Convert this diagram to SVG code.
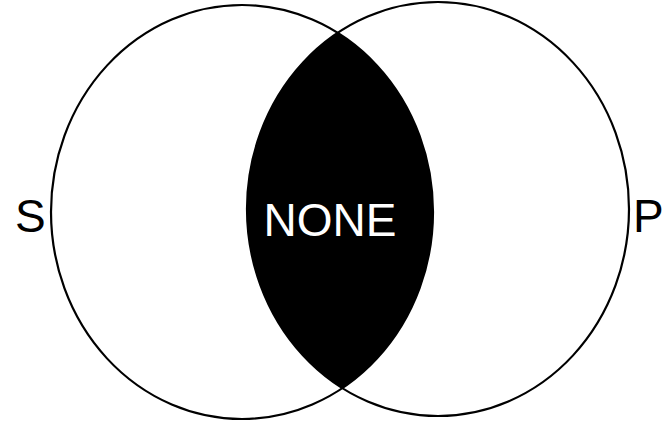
<svg xmlns="http://www.w3.org/2000/svg" width="665" height="425" viewBox="0 0 665 425">
<style>
.c{fill:none;stroke:#000;stroke-width:2.2}
.t{font-family:"Liberation Sans",Arial,sans-serif;font-size:46px}
</style>
<defs>
<clipPath id="clipP"><ellipse cx="438" cy="209" rx="191" ry="207"/></clipPath>
</defs>
<rect width="665" height="425" fill="#fff"/>
<g id="lens">
<ellipse cx="242" cy="212" rx="191" ry="207" fill="#000" clip-path="url(#clipP)"/>
<text class="t" x="330" y="236" text-anchor="middle" fill="#fff">NONE</text>
</g>
<g id="S">
<ellipse class="c" cx="242" cy="212" rx="191" ry="207"/>
<text class="t" x="15" y="232">S</text>
</g>
<g id="P">
<ellipse class="c" cx="438" cy="209" rx="191" ry="207"/>
<text class="t" x="633" y="232">P</text>
</g>
<g id="connectors"/>
</svg>
